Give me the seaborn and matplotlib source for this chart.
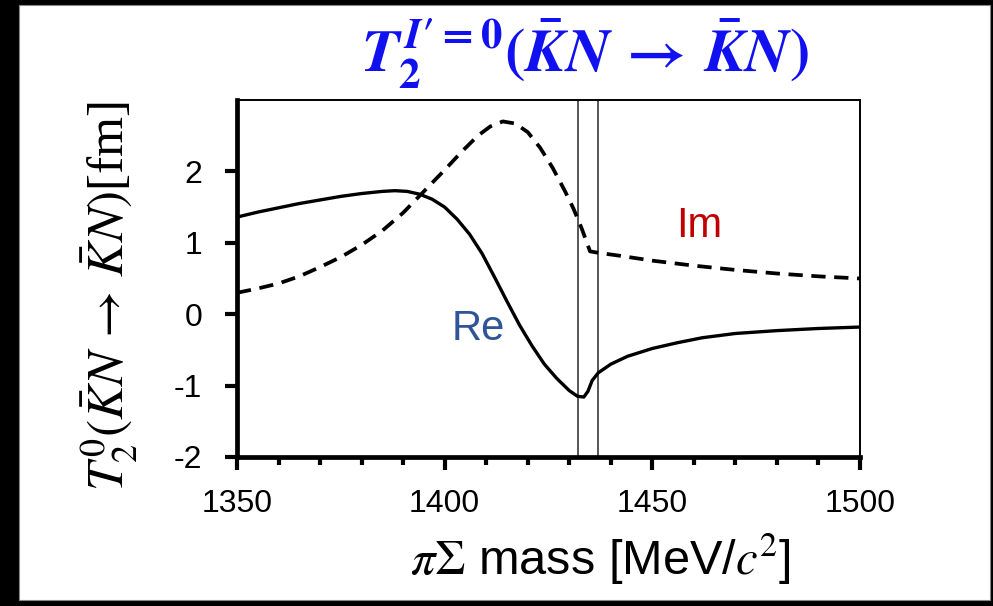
import matplotlib
matplotlib.use("Agg")
import matplotlib.pyplot as plt
import pandas as pd
import seaborn as sns
from matplotlib.patches import Rectangle
from matplotlib.ticker import MultipleLocator

# Real part of the amplitude (solid curve)
mass_re = [1350, 1355, 1360, 1365, 1370, 1375, 1380, 1385, 1388, 1391, 1394,
           1397, 1400, 1403, 1406, 1409, 1412, 1415, 1418, 1421, 1424, 1427,
           1430, 1432, 1433.5, 1434.5, 1435.5, 1437, 1440, 1444, 1450, 1456,
           1462, 1470, 1480, 1490, 1500]
re_vals = [1.36, 1.43, 1.49, 1.55, 1.60, 1.65, 1.69, 1.72, 1.73, 1.72, 1.68,
           1.61, 1.50, 1.33, 1.12, 0.85, 0.52, 0.18, -0.15, -0.44, -0.70, -0.90,
           -1.07, -1.15, -1.16, -1.08, -0.93, -0.82, -0.70, -0.59, -0.48, -0.40,
           -0.33, -0.27, -0.23, -0.20, -0.18]

# Imaginary part of the amplitude (dashed curve)
mass_im = [1350, 1355, 1360, 1365, 1370, 1375, 1380, 1385, 1390, 1395, 1400,
           1404, 1408, 1411, 1414, 1417, 1420, 1423, 1426, 1429, 1431, 1433,
           1435, 1437, 1442, 1450, 1460, 1470, 1480, 1490, 1500]
im_vals = [0.30, 0.36, 0.43, 0.53, 0.66, 0.80, 0.97, 1.17, 1.42, 1.72, 2.02,
           2.27, 2.50, 2.63, 2.70, 2.67, 2.55, 2.33, 2.05, 1.72, 1.48, 1.20,
           0.88, 0.86, 0.82, 0.75, 0.68, 0.62, 0.57, 0.53, 0.50]

# K-p and K0bar-n thresholds
thresholds = [1432, 1437]

x_ticks = [1350, 1400, 1450, 1500]
y_ticks = [-2, -1, 0, 1, 2]

sns.set_style("white")
plt.rcParams["font.family"] = ["Liberation Sans", "DejaVu Sans"]
plt.rcParams["mathtext.fontset"] = "custom"
plt.rcParams["mathtext.it"] = "STIXGeneral:italic:bold"
plt.rcParams["mathtext.rm"] = "STIXGeneral:bold"
plt.rcParams["mathtext.bf"] = "STIXGeneral:bold"

df_re = pd.DataFrame({"mass": mass_re, "T": re_vals})
df_im = pd.DataFrame({"mass": mass_im, "T": im_vals})

fig = plt.figure(figsize=(9.93, 6.06), dpi=100, facecolor="black")
fig.add_artist(Rectangle((19 / 993, 6 / 606), 971 / 993, 595 / 606,
                         transform=fig.transFigure, facecolor="white",
                         edgecolor="#888888", linewidth=0.8, zorder=-10))

ax = fig.add_axes([237 / 993, 1 - 457 / 606, 623 / 993, 357 / 606])
ax.set_facecolor("white")

sns.lineplot(data=df_re, x="mass", y="T", ax=ax, color="black",
             linewidth=2.4, solid_capstyle="round")
sns.lineplot(data=df_im, x="mass", y="T", ax=ax, color="black",
             linewidth=2.7, linestyle=(0, (3.8, 2.3)))

for t in thresholds:
    ax.axvline(t, color="#3a3a3a", linewidth=1.2, zorder=1)

ax.set_xlim(1350, 1500)
ax.set_ylim(-2, 3)
ax.set_xticks(x_ticks)
ax.set_yticks(y_ticks)
ax.xaxis.set_minor_locator(MultipleLocator(10))

for side in ["left", "bottom"]:
    ax.spines[side].set_linewidth(3.4)
    ax.spines[side].set_color("black")
for side in ["top", "right"]:
    ax.spines[side].set_linewidth(1.4)
    ax.spines[side].set_color("black")

ax.tick_params(axis="x", which="major", direction="out", length=9, width=3,
               pad=14, labelsize=23, bottom=True, colors="black")
ax.tick_params(axis="x", which="minor", direction="out", length=6, width=3,
               bottom=True, colors="black")
ax.tick_params(axis="y", which="major", direction="out", length=9, width=3,
               pad=16, labelsize=23, left=True, colors="black")
ax.set_yticklabels(["-2", "-1", "0", "1", "2"])

ax.set_xlabel(r"$\pi\Sigma$ mass [MeV/$c^2$]", fontsize=35, color="black",
              math_fontfamily="stix")
ax.xaxis.set_label_coords(0.583, -0.21)
ax.set_ylabel(r"$T_2^0(\bar{K}N\,\rightarrow\,\bar{K}N)$[fm]", fontsize=37,
              color="black", math_fontfamily="stix",
              family=["Liberation Serif", "DejaVu Serif"])
ax.yaxis.set_label_coords(-0.155, 0.45)

ax.text(1408.0, -0.21, "Re", color="#2f5597", fontsize=30,
        ha="center", va="center")
ax.text(1461.2, 1.24, "Im", color="#c00000", fontsize=30,
        ha="center", va="center")

fig.text(0.589, 0.912, "$T_2^{I\u2032=0}(\\bar{K}N\\,\\rightarrow\\,\\bar{K}N)$",
         color="#1010f0", fontsize=44, ha="center", va="center",
         math_fontfamily="custom")

fig.savefig("out.png", dpi=100, facecolor=fig.get_facecolor())
